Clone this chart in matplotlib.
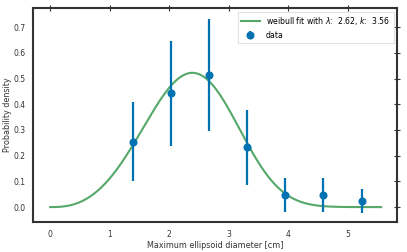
import numpy as np
import matplotlib
matplotlib.use('Agg')
import matplotlib.pyplot as plt

blue = '#0072B2'
green = '#55A868'
dark = '#333333'

# binned data
diam = [1.39, 2.03, 2.67, 3.31, 3.95, 4.59, 5.24]
dens = [0.255, 0.442, 0.512, 0.232, 0.047, 0.047, 0.023]
err = [0.155, 0.203, 0.218, 0.147, 0.066, 0.066, 0.047]

# weibull fit parameters from legend
lam = 2.62
k = 3.56

xs = np.linspace(0, 5.56, 300)
pdf = (k / lam) * (xs / lam) ** (k - 1) * np.exp(-(xs / lam) ** k)

fig = plt.figure(figsize=(4.07, 2.52), dpi=100)
ax = fig.add_axes([0.081, 0.119, 0.895, 0.849])

ax.plot(xs, pdf, color=green, lw=1.5, label=r'weibull fit with $\lambda$:  %.2f, $k$:  %.2f' % (lam, k))
ax.errorbar(diam, dens, yerr=err, fmt='o', color=blue, ms=4.8, elinewidth=1.6, capsize=0, label='data')

ax.set_xlim(-0.29, 5.83)
ax.set_ylim(-0.058, 0.774)
ax.set_xticks([0, 1, 2, 3, 4, 5])
ax.set_yticks([0.0, 0.1, 0.2, 0.3, 0.4, 0.5, 0.6, 0.7])

ax.set_xlabel('Maximum ellipsoid diameter [cm]', fontsize=5.8, color=dark, labelpad=2)
ax.set_ylabel('Probability density', fontsize=5.8, color=dark)
ax.yaxis.set_label_coords(-0.057, 0.5)

ax.tick_params(axis='both', labelsize=5.5, labelcolor=dark, left=False, bottom=False,
               top=True, right=True, direction='inout', length=4, width=0.8, color=dark, pad=3.5)
for el in ax.spines:
    ax.spines[el].set_color(dark)
    ax.spines[el].set_linewidth(1.5)

leg = ax.legend(loc='upper right', fontsize=5.6, frameon=True, fancybox=False,
                borderpad=0.45, handlelength=2.4, borderaxespad=0.45)
leg.get_frame().set_edgecolor('#dddddd')
leg.get_frame().set_linewidth(0.8)

fig.savefig('out.png', dpi=100)
